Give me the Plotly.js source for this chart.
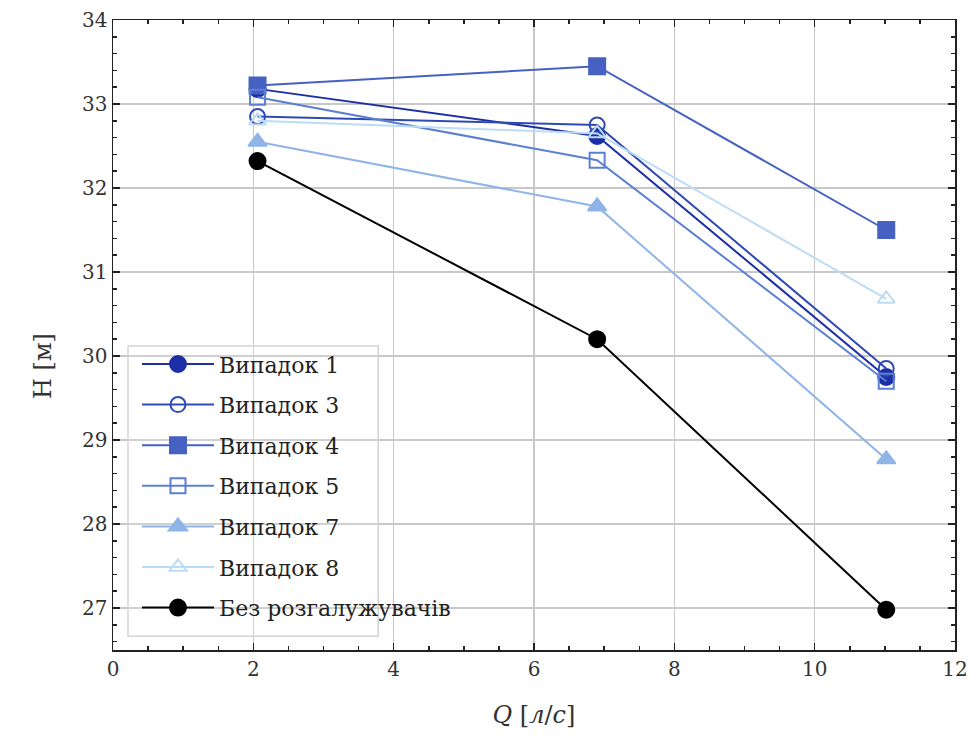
<!DOCTYPE html>
<html><head><meta charset="utf-8">
<script src="https://cdn.plot.ly/plotly-3.0.1.min.js"></script>
<style>body{margin:0;background:#fff}#c{width:970px;height:746px}</style>
</head><body><div id="c"></div>
<script>
const Q = [2.06, 6.9, 11.02];
const names = ["Випадок 1","Випадок 3","Випадок 4","Випадок 5","Випадок 7","Випадок 8","Без розгалужувачів"];
const H1 = [33.18, 32.62, 29.75];
const H3 = [32.85, 32.75, 29.85];
const H4 = [33.22, 33.45, 31.50];
const H5 = [33.08, 32.33, 29.70];
const H7 = [32.55, 31.78, 28.77];
const H8 = [32.80, 32.65, 30.68];
const H0 = [32.32, 30.20, 26.98];
const series = [H1,H3,H4,H5,H7,H8,H0];
const colors = ["#1c2fa6","#2f4ab5","#4661c2","#5b7fd2","#8fb4e8","#bcdcf5","#000000"];
const symbols = ["circle","circle-open","square","square-open","triangle-up","triangle-up-open","circle"];
const sizes = [16,15,16,15,16,15,16];
const traces = series.map((h,i)=>({
  x: Q, y: h, name: names[i], legendgroup:'g'+i, type:'scatter', mode:'lines+markers',
  line:{color:colors[i], width:2},
  marker:{symbol:symbols[i], size:sizes[i], color:colors[i], line:{color:colors[i], width:2}}
}));
const font = "DejaVu Serif";
const layout = {
  width:970, height:746,
  margin:{l:113, r:15, t:20, b:96},
  paper_bgcolor:'#fff', plot_bgcolor:'#fff',
  font:{family:font, size:20, color:'#222'},
  showlegend:true,
  legend:{x:0.0285, y:0.033, xanchor:'left', yanchor:'bottom', traceorder:'grouped',
    bgcolor:'rgba(0,0,0,0)', borderwidth:0, itemwidth:72,
    font:{family:font, size:22, color:'#222'}, tracegroupgap:9},
  shapes:[{type:'rect', xref:'paper', yref:'paper', x0:0.0178, x1:0.315, y0:0.022, y1:0.4825,
    line:{color:'#d4d4d4', width:1.5}, fillcolor:'rgba(255,255,255,0.15)', layer:'above'}],
  annotations:[{text:'H [м]', xref:'paper', yref:'paper', x:-0.102, y:0.451, showarrow:false,
    textangle:-90, font:{family:font, size:24, color:'#333'}}],
  xaxis:{range:[0,12], dtick:2, tick0:0, ticks:'inside', ticklen:7, tickwidth:1.5, tickcolor:'#222',
    mirror:'allticks', showline:true, linecolor:'#222', linewidth:1.5,
    showgrid:true, gridcolor:'#c8c8c8', gridwidth:1.5, zeroline:false,
    minor:{dtick:0.5, ticks:'inside', ticklen:4, tickcolor:'#222', showgrid:false},
    tickfont:{family:font, size:20, color:'#333'},
    title:{text:'<i>Q</i> [<i>л</i>/<i>с</i>]', font:{family:font, size:24, color:'#333'}, standoff:26}},
  yaxis:{range:[26.5,34], dtick:1, tick0:27, ticks:'inside', ticklen:7, tickwidth:1.5, tickcolor:'#222',
    mirror:'allticks', showline:true, linecolor:'#222', linewidth:1.5,
    showgrid:true, gridcolor:'#c8c8c8', gridwidth:1.5, zeroline:false,
    minor:{dtick:0.2, ticks:'inside', ticklen:4, tickcolor:'#222', showgrid:false},
    tickfont:{family:font, size:20, color:'#333'}}
};
Plotly.newPlot('c', traces, layout, {displayModeBar:false, staticPlot:true});
</script></body></html>
